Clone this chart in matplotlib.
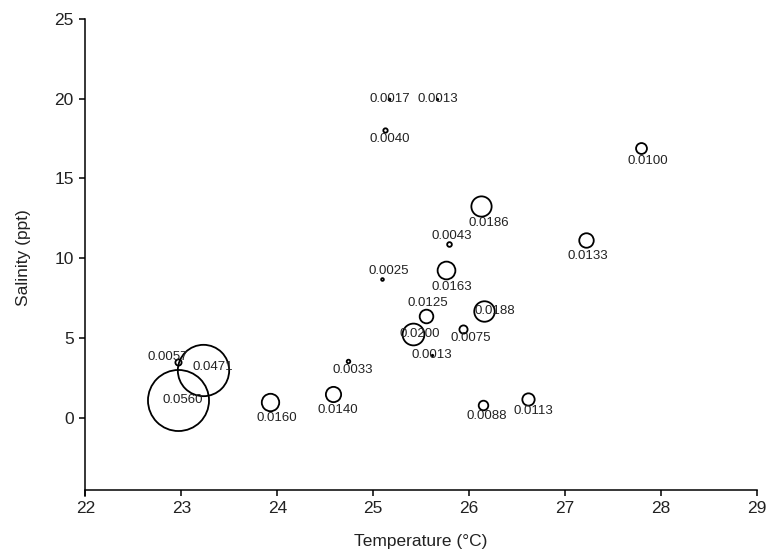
import numpy as np
import matplotlib
matplotlib.use("Agg")
import matplotlib.pyplot as plt

plt.rcParams['font.family'] = ['Liberation Sans', 'DejaVu Sans']

# value shown next to each circle (circle radius follows it)
values = [0.0017, 0.0013, 0.0040, 0.0100, 0.0186, 0.0043, 0.0133, 0.0025,
          0.0163, 0.0125, 0.0188, 0.0200, 0.0075, 0.0013, 0.0033, 0.0057,
          0.0471, 0.0560, 0.0160, 0.0140, 0.0088, 0.0113]
temperature = [25.17, 25.67, 25.12, 27.79, 26.12, 25.79, 27.22, 25.09,
               25.76, 25.55, 26.16, 25.41, 25.94, 25.61, 24.74, 22.97,
               23.23, 22.96, 23.92, 24.58, 26.14, 26.61]
salinity = [20.0, 20.0, 18.06, 16.93, 13.25, 10.89, 11.14, 8.70,
            9.28, 6.39, 6.71, 5.25, 5.56, 3.93, 3.57, 3.51,
            3.00, 1.10, 1.00, 1.48, 0.79, 1.17]
# label offsets in pixels (dx, dy up)
label_off = [(0, 0), (0, 0), (5, -9), (7, -13), (8, -17), (3, 8), (2, -16), (7, 8),
             (6, -17), (2, 13), (10, 0), (7, 0), (7, -9), (0, 0), (5, -9), (-11, 5),
             (9, 3), (5, 0), (7, -16), (5, -16), (4, -11), (6, -12)]

xticks = [22, 23, 24, 25, 26, 27, 28, 29]
yticks = [0, 5, 10, 15, 20, 25]

fig = plt.figure(figsize=(7.77, 5.56), dpi=100)
ax = fig.add_axes([0.110, 0.108, 0.864, 0.858])

px_per_unit = 545.0  # circle radius in pixels per unit of value
for t, s, v, (dx, dy) in zip(temperature, salinity, values, label_off):
    ms = 2 * px_per_unit * v * 0.72
    ax.plot(t, s, 'o', ms=ms, mfc='none', mec='black', mew=1.3, zorder=2)
    ax.annotate('%.4f' % v, (t, s), xytext=(dx, dy), textcoords='offset pixels',
                ha='center', va='center', fontsize=9.5, color='#222222', zorder=3)

ax.set_xlim(22, 29)
ax.set_ylim(-4.9, 25)
ax.set_xticks(xticks)
ax.set_yticks(yticks)
ax.spines['top'].set_visible(False)
ax.spines['right'].set_visible(False)
ax.spines['bottom'].set_position(('data', -4.5))
for sp in ('left', 'bottom'):
    ax.spines[sp].set_linewidth(1.1)
ax.tick_params(direction='out', length=4.5, width=1.1, labelsize=12.5,
               colors='black', labelcolor='#222222', pad=4)
ax.set_xlabel('Temperature (°C)', fontsize=12.5, labelpad=13, color='#222222')
ax.set_ylabel('Salinity (ppt)', fontsize=12.5, labelpad=17, color='#222222')

fig.savefig('out.png', dpi=100)
